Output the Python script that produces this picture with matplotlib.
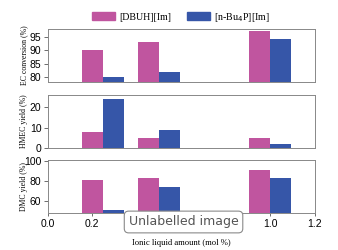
import matplotlib
matplotlib.use("Agg")
import matplotlib.pyplot as plt
from matplotlib.patches import Patch
import numpy as np

# ionic liquid amount (mol %)
amount = [0.25, 0.5, 1.0]
labels = ["[DBUH][Im]", "[n-Bu$_4$P][Im]"]

ec_dbuh = [90, 93, 97]
ec_bu4p = [80, 82, 94]
hmec_dbuh = [8, 5, 5]
hmec_bu4p = [24, 9, 2]
dmc_dbuh = [81, 83, 91]
dmc_bu4p = [51, 74, 83]

xticks = [0.0, 0.2, 0.4, 0.6, 0.8, 1.0, 1.2]
# 0.4-0.8 labels are hidden behind the overlay box in the reference
xticklabels = ["0.0", "0.2", "", "", "", "1.0", "1.2"]

pink = "#c0559f"
blue = "#3656a8"
W, H = 338, 250

fig = plt.figure(figsize=(W / 100, H / 100), dpi=100)

def axbox(top, bottom, left=47.7, right=314.7):
    return [left / W, 1 - bottom / H, (right - left) / W, (bottom - top) / H]

panels = [
    (axbox(29.3, 81.7), ec_dbuh, ec_bu4p, (78.4, 97.7), [80, 85, 90, 95], "EC conversion (%)"),
    (axbox(95.3, 147.7), hmec_dbuh, hmec_bu4p, (0, 26), [0, 10, 20], "HMEC yield (%)"),
    (axbox(160, 213.3), dmc_dbuh, dmc_bu4p, (47.5, 100.5), [60, 80, 100], "DMC yield (%)"),
]

bw = 0.095
axes = []
for box, a, b, ylim, yt, ylab in panels:
    ax = fig.add_axes(box)
    ax.bar(amount, a, width=-bw, align="edge", color=pink, zorder=2)
    ax.bar(amount, b, width=bw, align="edge", color=blue, zorder=2)
    ax.set_xlim(0, 1.2)
    ax.set_ylim(*ylim)
    ax.set_yticks(yt)
    ax.tick_params(axis="y", labelsize=7.5, length=3, width=0.6, color="#555555", pad=1.5)
    for lab in ax.get_yticklabels():
        lab.set_family("Liberation Sans")
    ax.set_ylabel(ylab, family="Liberation Serif", fontsize=5.6)
    ax.yaxis.set_label_coords(-20 / (box[2] * W), 0.5)
    for s in ax.spines.values():
        s.set_color("#888888")
        s.set_linewidth(0.7)
    axes.append(ax)

for ax in axes[:2]:
    ax.set_xticks([])
ax = axes[2]
ax.set_xticks(xticks)
ax.set_xticklabels(xticklabels)
ax.tick_params(axis="x", labelsize=7.5, length=2, width=0.6, color="#555555", pad=2)
for lab in ax.get_xticklabels():
    lab.set_family("Liberation Sans")
ax.set_xlabel("Ionic liquid amount (mol %)", family="Liberation Serif", fontsize=6.2, labelpad=7)

handles = [Patch(color=pink), Patch(color=blue)]
fig.legend(handles, labels, loc="center", bbox_to_anchor=(0.535, 1 - 17 / H), ncol=2,
           frameon=False, prop={"family": "Liberation Serif", "size": 7.2},
           handlelength=2.3, handleheight=0.9, columnspacing=1.6, handletextpad=0.4)

fig.text(0.543, 1 - 222 / H, "Unlabelled image", ha="center", va="center", fontsize=9,
         color="#555555", family="DejaVu Sans",
         bbox=dict(boxstyle="round,pad=0.35", fc="white", ec="#8a8a8a", lw=0.8))

fig.savefig("out.png", dpi=100)
